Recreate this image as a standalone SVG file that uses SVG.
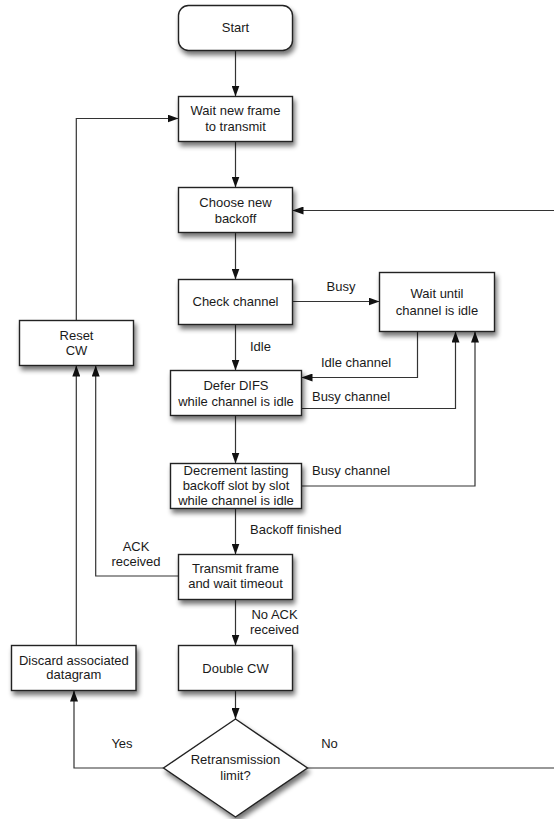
<svg xmlns="http://www.w3.org/2000/svg" width="554" height="819" viewBox="0 0 554 819">
<style>
.box{fill:#fff;stroke:#222;stroke-width:1.4;filter:url(#sh)}
.t{font-family:"Liberation Sans",Arial,sans-serif;font-size:13px;fill:#1a1a1a;text-anchor:middle}
.l{font-family:"Liberation Sans",Arial,sans-serif;font-size:13px;fill:#1a1a1a}
.c{fill:none;stroke:#333;stroke-width:1.2;marker-end:url(#ah)}
.n{fill:none;stroke:#333;stroke-width:1.2}
</style>
<defs>
<filter id="sh" x="-20%" y="-20%" width="150%" height="160%">
<feGaussianBlur in="SourceAlpha" stdDeviation="2.5"/>
<feOffset dx="2" dy="4" result="b"/>
<feComponentTransfer><feFuncA type="linear" slope="0.55"/></feComponentTransfer>
<feMerge><feMergeNode/><feMergeNode in="SourceGraphic"/></feMerge>
</filter>
<marker id="ah" viewBox="0 0 11 8" refX="11" refY="4" markerWidth="11" markerHeight="8" markerUnits="userSpaceOnUse" orient="auto">
<path d="M0,0 L11,4 L0,8 z" fill="#111"/>
</marker>
</defs>
<rect width="554" height="819" fill="#fff"/>
<g id="connectors">
<path class="c" d="M235.5 50.5 V96.5"/>
<path class="c" d="M235.5 141.5 V187.5"/>
<path class="c" d="M556 210.5 H292.5"/>
<path class="c" d="M235.5 232.5 V279.5"/>
<path class="c" d="M292.5 301.5 H379.5"/>
<path class="c" d="M235.5 324.5 V370.5"/>
<path class="c" d="M417.5 331.5 V377.5 H301.5"/>
<path class="c" d="M301.5 408.5 H455.5 V331.5"/>
<path class="c" d="M235.5 415.5 V463.5"/>
<path class="c" d="M301.5 486 H475 V331.5"/>
<path class="c" d="M235.5 508.5 V554.5"/>
<path class="c" d="M178.5 576 H95.7 V365.5"/>
<path class="c" d="M235.5 599.5 V645.5"/>
<path class="c" d="M235.5 690.5 V719"/>
<path class="c" d="M163.5 768 H74 V690.5"/>
<path class="c" d="M76.3 645.5 V365.5"/>
<path class="c" d="M76.3 320.5 V118.5 H178.5"/>
<path class="n" d="M307.5 768 H556"/>
<text class="t" x="341" y="290.5">Busy</text>
<text class="l" x="250" y="351">Idle</text>
<text class="t" x="356" y="367">Idle channel</text>
<text class="t" x="351" y="401">Busy channel</text>
<text class="t" x="351" y="475">Busy channel</text>
<text class="l" x="250" y="533.5">Backoff finished</text>
<text class="t" x="136" y="551">ACK</text>
<text class="t" x="136" y="566">received</text>
<text class="t" x="274.5" y="618.5">No ACK</text>
<text class="t" x="274.5" y="633.5">received</text>
<text class="t" x="122" y="748">Yes</text>
<text class="t" x="329.5" y="748">No</text>
</g>
<g id="start"><rect class="box" x="178.5" y="5.5" width="114" height="45" rx="10"/><text class="t" x="235.5" y="32">Start</text></g>
<g id="wait"><rect class="box" x="178.5" y="96.5" width="114" height="45"/><text class="t" x="235.5" y="114.5">Wait new frame</text><text class="t" x="235.5" y="131">to transmit</text></g>
<g id="choose"><rect class="box" x="178.5" y="187.5" width="114" height="45"/><text class="t" x="235.5" y="207">Choose new</text><text class="t" x="235.5" y="223">backoff</text></g>
<g id="check"><rect class="box" x="178.5" y="279.5" width="114" height="45"/><text class="t" x="235.5" y="306">Check channel</text></g>
<g id="waitidle"><rect class="box" x="379.5" y="272.5" width="115" height="59"/><text class="t" x="437" y="298">Wait until</text><text class="t" x="437" y="314.5">channel is idle</text></g>
<g id="reset"><rect class="box" x="19.5" y="320.5" width="114" height="45"/><text class="t" x="76.5" y="339.5">Reset</text><text class="t" x="76.5" y="354.5">CW</text></g>
<g id="defer"><rect class="box" x="170.5" y="370.5" width="131" height="45"/><text class="t" x="236" y="389.5">Defer DIFS</text><text class="t" x="236" y="405.5">while channel is idle</text></g>
<g id="decrement"><rect class="box" x="170.5" y="463.5" width="131" height="45"/><text class="t" x="236" y="474.5">Decrement lasting</text><text class="t" x="236" y="490">backoff slot by slot</text><text class="t" x="236" y="505">while channel is idle</text></g>
<g id="transmit"><rect class="box" x="178.5" y="554.5" width="114" height="45"/><text class="t" x="235.5" y="573">Transmit frame</text><text class="t" x="235.5" y="588">and wait timeout</text></g>
<g id="discard"><rect class="box" x="11.5" y="645.5" width="124.5" height="45"/><text class="t" x="73.8" y="664.5">Discard associated</text><text class="t" x="73.8" y="679">datagram</text></g>
<g id="double"><rect class="box" x="178.5" y="645.5" width="114" height="45"/><text class="t" x="235.5" y="672.5">Double CW</text></g>
<g id="retrans"><polygon class="box" points="235.5,719 307.5,768 235.5,817 163.5,768"/><text class="t" x="235.5" y="763.5">Retransmission</text><text class="t" x="235.5" y="780">limit?</text></g>
</svg>
